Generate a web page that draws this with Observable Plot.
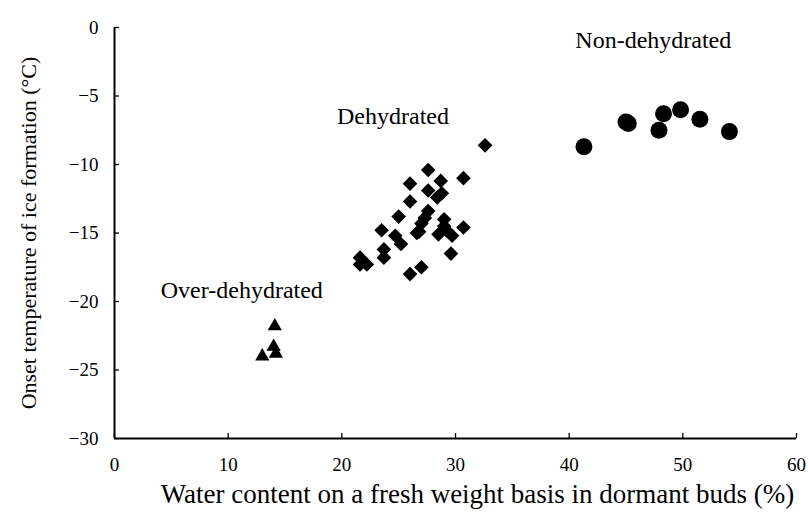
<!DOCTYPE html>
<html>
<head>
<meta charset="utf-8">
<script src="https://cdn.jsdelivr.net/npm/d3@7"></script>
<script src="https://cdn.jsdelivr.net/npm/@observablehq/plot@0.6"></script>
<style>
  html, body { margin: 0; padding: 0; background: #fff; }
  #chart { width: 808px; height: 529px; }
</style>
</head>
<body>
<div id="chart"></div>
<script>
// Non-dehydrated (circles)
const nonDehydratedX = [41.3, 45.0, 45.2, 48.3, 49.8, 47.9, 51.5, 54.1];
const nonDehydratedY = [-8.7, -6.9, -7.0, -6.3, -6.0, -7.5, -6.7, -7.6];
// Dehydrated (diamonds)
const dehydratedX = [32.6, 27.6, 30.7, 26.0, 28.7, 27.6, 28.8, 28.4, 26.0, 27.6, 25.0, 27.3, 27.0, 29.0, 30.7, 23.5, 24.7, 25.2, 26.6, 28.5, 29.0, 29.7, 23.7, 23.7, 21.6, 21.6, 22.2, 29.6, 26.0, 27.0, 29.2, 26.8];
const dehydratedY = [-8.6, -10.4, -11.0, -11.4, -11.2, -11.9, -12.1, -12.4, -12.7, -13.4, -13.8, -13.9, -14.3, -14.0, -14.6, -14.8, -15.2, -15.8, -15.0, -15.1, -14.5, -15.2, -16.2, -16.8, -16.8, -17.3, -17.3, -16.5, -18.0, -17.5, -14.8, -14.9];
// Over-dehydrated (triangles)
const overDehydratedX = [14.1, 14.0, 13.0, 14.2];
const overDehydratedY = [-21.8, -23.3, -24.0, -23.8];

// Group labels
const labelText = ["Non-dehydrated", "Dehydrated", "Over-dehydrated"];
const labelX = [47.4, 24.5, 11.2];
const labelY = [-0.95, -6.5, -19.2];

// Ticks and titles
const xTicks = [0, 10, 20, 30, 40, 50, 60];
const yTicks = [0, -5, -10, -15, -20, -25, -30];
const xTitle = "Water content on a fresh weight basis in dormant buds (%)";
const yTitle = "Onset temperature of ice formation (°C)";

const toRows = (xs, ys) => xs.map((x, i) => ({x, y: ys[i]}));
const labels = labelText.map((t, i) => ({t, x: labelX[i], y: labelY[i]}));
const fmt = d => d < 0 ? "\u2212" + Math.abs(d) : String(d);

const chart = Plot.plot({
  width: 808,
  height: 529,
  marginLeft: 114,
  marginRight: 12,
  marginTop: 27,
  marginBottom: 91,
  style: {fontFamily: "'Liberation Serif', 'DejaVu Serif', serif", fontSize: "19px", color: "black", background: "white"},
  x: {domain: [0, 60]},
  y: {domain: [-30, 0]},
  marks: [
    Plot.axisX({ticks: xTicks, tickSize: -5, tickPadding: 24, tickFormat: fmt, label: null, strokeWidth: 1.3}),
    Plot.axisY({ticks: yTicks, tickSize: -5, tickPadding: 21, tickFormat: fmt, label: null, strokeWidth: 1.3}),
    Plot.ruleX([0], {y1: -30, y2: 0, stroke: "black", strokeWidth: 2}),
    Plot.ruleY([-30], {x1: 0, x2: 60, stroke: "black", strokeWidth: 2}),
    Plot.dot(toRows(nonDehydratedX, nonDehydratedY), {x: "x", y: "y", r: 8.5, symbol: "circle", fill: "black", stroke: "none"}),
    Plot.dot(toRows(dehydratedX, dehydratedY), {x: "x", y: "y", r: 6.6, symbol: "diamond2", fill: "black", stroke: "none"}),
    Plot.dot(toRows(overDehydratedX, overDehydratedY), {x: "x", y: "y", r: 6.8, symbol: "triangle2", fill: "black", stroke: "none"}),
    Plot.text(labels, {x: "x", y: "y", text: "t", fontSize: 24, fill: "black"}),
    Plot.text([xTitle], {frameAnchor: "bottom", textAnchor: "middle", dx: 22, dy: 64, fontSize: 27, fill: "black"}),
    Plot.text([yTitle], {frameAnchor: "left", textAnchor: "middle", rotate: -90, dx: -86, fontSize: 22, fill: "black"})
  ]
});
document.getElementById("chart").appendChild(chart);
</script>
</body>
</html>
